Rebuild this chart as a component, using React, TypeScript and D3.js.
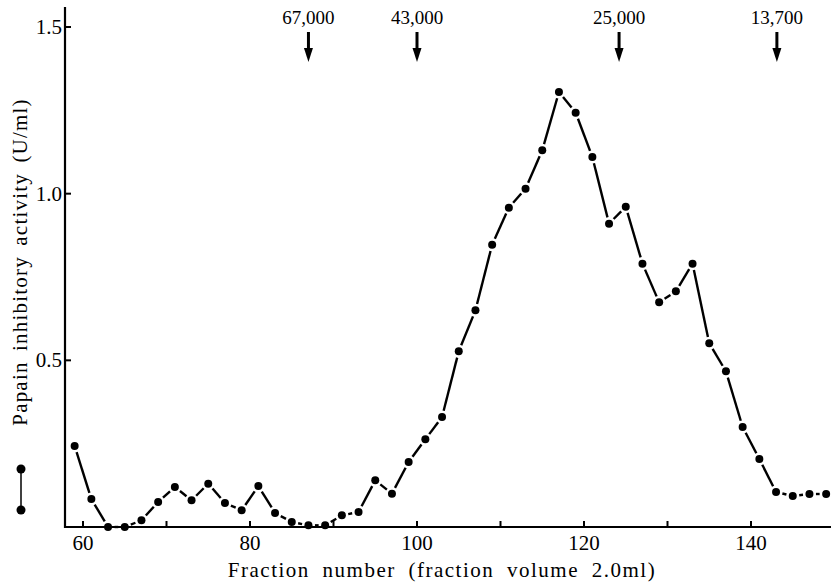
import React from "react";
import * as d3 from "d3";

const fractions = [59, 61, 63, 65, 67, 69, 71, 73, 75, 77, 79, 81, 83, 85, 87, 89, 91, 93, 95, 97, 99, 101, 103, 105, 107, 109, 111, 113, 115, 117, 119, 121, 123, 125, 127, 129, 131, 133, 135, 137, 139, 141, 143, 145, 147, 149];
const activity = [0.243, 0.084, 0.0, 0.0, 0.02, 0.075, 0.12, 0.08, 0.13, 0.072, 0.05, 0.123, 0.042, 0.015, 0.005, 0.005, 0.035, 0.045, 0.14, 0.10, 0.195, 0.263, 0.33, 0.527, 0.65, 0.847, 0.958, 1.015, 1.13, 1.305, 1.243, 1.11, 0.91, 0.961, 0.79, 0.674, 0.707, 0.79, 0.551, 0.467, 0.30, 0.204, 0.105, 0.093, 0.099, 0.099];

const markerLabels = ["67,000", "43,000", "25,000", "13,700"];
const markerFractions = [87, 100, 124.2, 143.1];

const xTicksMajor = [60, 80, 100, 120, 140];
const xTicksMinor = [70, 90, 110, 130];
const yTicks = [0.5, 1.0, 1.5];

const FONT = "'Liberation Serif', 'Times New Roman', serif";

export default function App() {
  const W = 831, H = 582;
  const x = d3.scaleLinear().domain([60, 140]).range([83, 751]);
  const y = d3.scaleLinear().domain([0, 1.5]).range([527, 27]);
  const axisX = 65;
  const axisY = 527;

  const pts = fractions.map((f, i) => [x(f), y(activity[i])] as [number, number]);
  const gap = 6.5;
  const segs = pts.slice(1).map((p, i) => {
    const a = pts[i];
    const dx = p[0] - a[0], dy = p[1] - a[1];
    const len = Math.hypot(dx, dy);
    const ux = dx / len, uy = dy / len;
    return [a[0] + ux * gap, a[1] + uy * gap, p[0] - ux * gap, p[1] - uy * gap];
  });

  return (
    <svg width={W} height={H} style={{ position: "absolute", left: 0, top: 0, background: "#fff" }} fontFamily={FONT}>
      {/* axes */}
      <line x1={axisX} y1={7} x2={axisX} y2={axisY + 1} stroke="#000" strokeWidth={2.2} />
      <line x1={axisX - 1} y1={axisY} x2={W} y2={axisY} stroke="#000" strokeWidth={2.2} />
      {yTicks.map((t) => (
        <g key={"y" + t}>
          <line x1={axisX} x2={axisX + 6} y1={y(t)} y2={y(t)} stroke="#000" strokeWidth={2} />
          <text x={axisX - 3} y={y(t) + 7} textAnchor="end" fontSize={21}>{t.toFixed(1)}</text>
        </g>
      ))}
      {xTicksMajor.map((t) => (
        <g key={"x" + t}>
          <line x1={x(t)} x2={x(t)} y1={axisY} y2={axisY - 6} stroke="#000" strokeWidth={2} />
          <text x={x(t)} y={550} textAnchor="middle" fontSize={21}>{t}</text>
        </g>
      ))}
      {xTicksMinor.map((t) => (
        <line key={"m" + t} x1={x(t)} x2={x(t)} y1={axisY} y2={axisY - 6} stroke="#000" strokeWidth={2} />
      ))}
      {/* axis titles */}
      <text x={442} y={577} textAnchor="middle" fontSize={21} letterSpacing={1.5} wordSpacing={6}>Fraction number (fraction volume 2.0ml)</text>
      <text transform={`translate(27,262) rotate(-90)`} textAnchor="middle" fontSize={21} letterSpacing={1.2} wordSpacing={4}>Papain inhibitory activity (U/ml)</text>
      {/* legend symbol */}
      <line x1={21} y1={472} x2={21} y2={507} stroke="#000" strokeWidth={1.5} />
      <circle cx={21} cy={469} r={4.5} fill="#000" />
      <circle cx={21} cy={510} r={4.5} fill="#000" />
      {/* data */}
      {segs.map((s, i) => (
        <line key={"s" + i} x1={s[0]} y1={s[1]} x2={s[2]} y2={s[3]} stroke="#000" strokeWidth={2.4} />
      ))}
      {pts.map((p, i) => (
        <circle key={"p" + i} cx={p[0]} cy={p[1]} r={4} fill="#000" />
      ))}
      {/* molecular weight markers */}
      {markerFractions.map((f, i) => {
        const cx = x(f);
        return (
          <g key={"mk" + i}>
            <text x={cx} y={24} textAnchor="middle" fontSize={19}>{markerLabels[i]}</text>
            <line x1={cx} x2={cx} y1={32} y2={50} stroke="#000" strokeWidth={3} />
            <path d={`M${cx - 4.5},${48} L${cx + 4.5},${48} L${cx},${62} Z`} fill="#000" />
          </g>
        );
      })}
    </svg>
  );
}
